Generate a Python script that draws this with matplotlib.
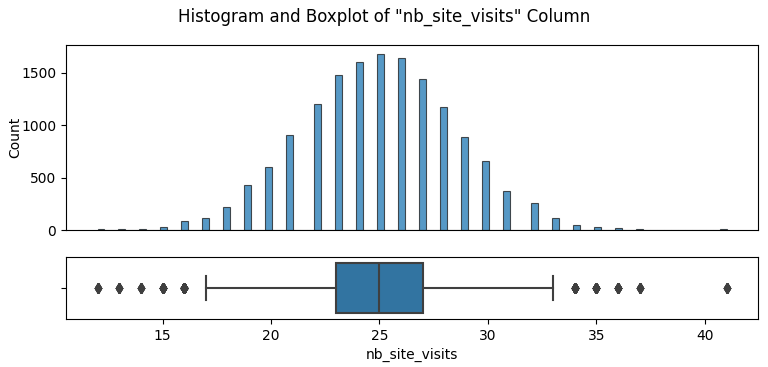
import matplotlib
matplotlib.use("Agg")
import matplotlib.pyplot as plt
import numpy as np

# visits per value
visits = np.arange(12, 42)
counts = [8, 8, 8, 31, 85, 119, 217, 430, 606, 907,
          1202, 1478, 1598, 1679, 1638, 1438, 1177, 891, 656, 370,
          254, 119, 47, 31, 16, 8, 0, 0, 0, 8]

data = np.repeat(visits, counts)

fig, (ax_hist, ax_box) = plt.subplots(
	2, 1, figsize=(7.68, 3.67), dpi=100, sharex=True,
	gridspec_kw={'height_ratios': [3, 1]})
fig.subplots_adjust(left=0.086, right=0.987, top=0.877, bottom=0.131, hspace=0.22)

ax_hist.hist(data, bins=90, color='#1f77b4', alpha=0.75,
	edgecolor='#1a1a1a', linewidth=0.8)
ax_hist.set_ylabel('Count')
ax_hist.yaxis.set_label_coords(-0.064, 0.5)
ax_hist.tick_params(axis='x', bottom=False, labelbottom=False)
ax_hist.margins(x=0.05, y=0.05)

line_col = '#3f3f3f'
ax_box.boxplot(data, vert=False, widths=0.8, patch_artist=True,
	positions=[0],
	boxprops=dict(facecolor='#3274a1', edgecolor=line_col, linewidth=1.5),
	whiskerprops=dict(color=line_col, linewidth=1.5),
	capprops=dict(color=line_col, linewidth=1.5),
	medianprops=dict(color=line_col, linewidth=1.5),
	flierprops=dict(marker='d', markerfacecolor=line_col, markeredgecolor=line_col, markersize=5))
ax_box.set_ylim(0.5, -0.5)
ax_box.set_yticks([0])
ax_box.set_yticklabels([''])
ax_box.set_xlabel('nb_site_visits')
ax_box.set_xlim(12 - 29 * 0.05, 41 + 29 * 0.05)
ax_box.set_xticks([15, 20, 25, 30, 35, 40])
ax_box.tick_params(axis='x', bottom=True, labelbottom=True)

fig.suptitle('Histogram and Boxplot of "nb_site_visits" Column', fontsize=12, y=0.978)

plt.savefig('out.png')
